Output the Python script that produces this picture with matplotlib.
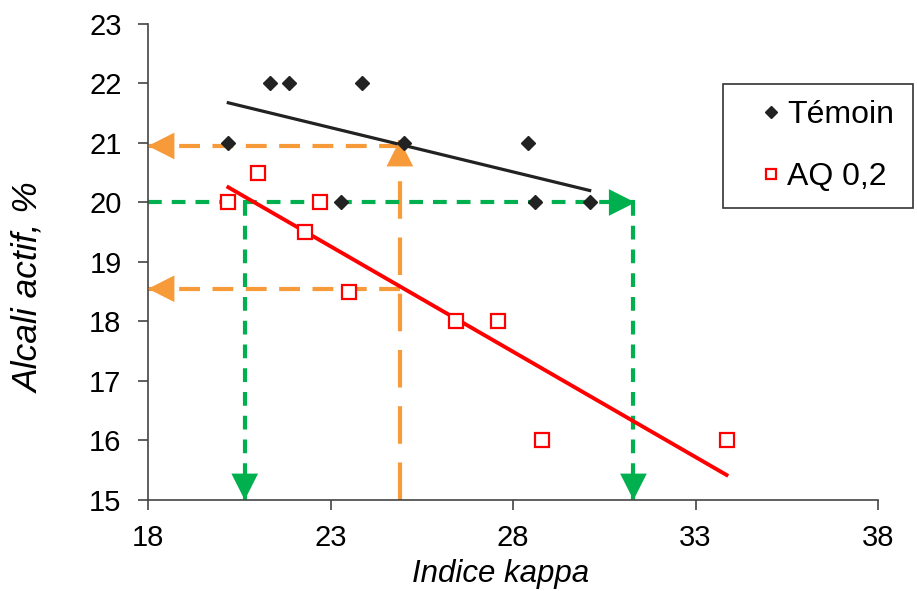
import numpy as np
import matplotlib
matplotlib.use('Agg')
import matplotlib.pyplot as plt

plt.rcParams['font.family'] = ['Liberation Sans', 'DejaVu Sans']

# Témoin (black diamonds)
x_temoin = [20.2, 21.35, 21.85, 23.85, 25.0, 23.3, 28.4, 28.6, 30.1]
y_temoin = [21, 22, 22, 22, 21, 20, 21, 20, 20]
# AQ 0,2 (red open squares)
x_aq = [20.2, 21.0, 22.3, 22.7, 23.5, 26.45, 27.6, 28.8, 33.85]
y_aq = [20, 20.5, 19.5, 20, 18.5, 18, 18, 16, 16]

# reading lines: (x start, y start, x tip, y tip)
orange_h = [(24.9, 20.95, 18.0, 20.95), (24.9, 18.55, 18.0, 18.55)]
orange_v = [(24.9, 15.0, 24.9, 21.05)]
green_h = [(18.0, 20.0, 31.35, 20.0)]
green_v = [(20.65, 20.0, 20.65, 15.0), (31.3, 20.0, 31.3, 15.0)]

orange = '#f79a3a'
green = '#00b04f'

fig = plt.figure(figsize=(9.17, 5.91), dpi=100)
ax = fig.add_axes([0.1614, 0.154, 0.7961, 0.8054])

# trend lines (least squares, like Excel)
for xs, ys, col, lw in [(x_temoin, y_temoin, '#222222', 2.3), (x_aq, y_aq, '#ff0000', 2.8)]:
    p = np.polyfit(xs, ys, 1)
    xx = np.array([min(xs), max(xs)])
    ax.plot(xx, np.polyval(p, xx), color=col, lw=lw, zorder=3)


def arrow(seg, col, dash):
    x0, y0, x1, y1 = seg
    ax.plot([x0, x1], [y0, y1], color=col, lw=3, linestyle=(0, dash),
            zorder=2, solid_capstyle='butt', dash_capstyle='butt')
    ax.annotate('', xy=(x1, y1), xytext=(x0, y0),
                arrowprops=dict(arrowstyle='-|>,head_length=0.95,head_width=0.48',
                                color=col, lw=0, mutation_scale=20,
                                shrinkA=0, shrinkB=0), zorder=4)


for s in orange_h:
    arrow(s, orange, (5, 3))
for s in orange_v:
    arrow(s, orange, (9, 4.5))
for s in green_h + green_v:
    arrow(s, green, (3.3, 2.4))

ax.plot(x_temoin, y_temoin, linestyle='none', marker='D', ms=7.5,
        color='#222222', label='Témoin', zorder=5)
ax.plot(x_aq, y_aq, linestyle='none', marker='s', ms=9.5, mfc='white',
        mec='#ff0000', mew=1.6, label='AQ 0,2', zorder=5)

ax.set_xlim(18, 38)
ax.set_ylim(15, 23)
ax.set_xticks([18, 23, 28, 33, 38])
ax.set_yticks(range(15, 24))
ax.spines['top'].set_visible(False)
ax.spines['right'].set_visible(False)
for sp in ['left', 'bottom']:
    ax.spines[sp].set_color('#444444')
    ax.spines[sp].set_linewidth(1.2)
ax.tick_params(labelsize=21, length=7, width=1.2, color='#444444')
ax.tick_params(axis='y', pad=12)
ax.tick_params(axis='x', pad=10)

ax.set_xlabel('Indice kappa', fontsize=22.5, style='italic')
ax.set_ylabel('Alcali actif, %', fontsize=25.5, style='italic')
ax.xaxis.set_label_coords(0.4836, -0.124)
ax.yaxis.set_label_coords(-0.141, 0.447)

leg = fig.legend(loc='upper left', mode='expand',
                 bbox_to_anchor=(723 / 917, 1 - 203 / 591, 190 / 917, 119 / 591),
                 fontsize=23, frameon=True, fancybox=False, edgecolor='black',
                 handlelength=2.0, handletextpad=-0.5, borderpad=0.5,
                 borderaxespad=0, labelspacing=1.0, markerscale=0.75)
leg.get_frame().set_linewidth(1.2)

fig.savefig('out.png', dpi=100)
